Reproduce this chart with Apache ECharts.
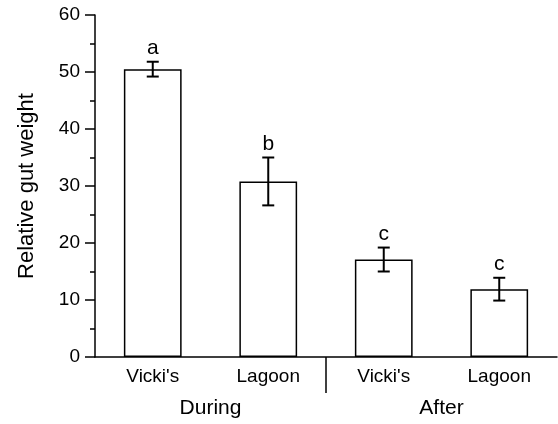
<!DOCTYPE html>
<html>
<head>
<meta charset="utf-8">
<title>Relative gut weight</title>
<script src="https://cdn.jsdelivr.net/npm/echarts@6/dist/echarts.min.js"></script>
<style>
  html, body { margin: 0; padding: 0; background: #fff; }
  #canvas { width: 558px; height: 424px; }
</style>
</head>
<body>
<div id="canvas"></div>
<script type="text/javascript">
    // data
    var categories = ["Vicki's", 'Lagoon', "Vicki's", 'Lagoon'];
    var groups = ['During', 'After'];
    var means = [50.5, 30.8, 17.1, 11.9];
    var errors = [1.3, 4.2, 2.1, 2.0];
    var letters = ['a', 'b', 'c', 'c'];
    var yTicks = [0, 60, 10];  // min, max, step

    var font = 'Liberation Sans, Arial, sans-serif';

    var errData = means.map(function (m, i) {
        return [i, m, errors[i], letters[i]];
    });

    var myChart = echarts.init(document.getElementById('canvas'));
    var option = {
        animation: false,
        grid: { left: 95, right: 1, top: 15, bottom: 67 },
        xAxis: [
            {
                type: 'category',
                data: categories,
                axisLine: { lineStyle: { color: '#000', width: 1.5 } },
                axisTick: { length: 10, lineStyle: { color: '#000', width: 1.5 } },
                axisLabel: { color: '#000', fontFamily: font, fontSize: 19, margin: 10 }
            },
            {
                type: 'category',
                data: groups,
                position: 'bottom',
                axisLine: { show: false },
                axisTick: { show: false },
                axisLabel: { color: '#000', fontFamily: font, fontSize: 21, margin: 41 }
            }
        ],
        yAxis: {
            type: 'value',
            min: yTicks[0],
            max: yTicks[1],
            interval: yTicks[2],
            name: 'Relative gut weight',
            nameLocation: 'middle',
            nameGap: 57,
            nameTextStyle: { color: '#000', fontFamily: font, fontSize: 22 },
            axisLine: { show: true, lineStyle: { color: '#000', width: 1.5 } },
            axisTick: { show: true, length: 10, lineStyle: { color: '#000', width: 1.5 } },
            minorTick: { show: true, splitNumber: 2, length: 5, lineStyle: { color: '#000', width: 1.5 } },
            splitLine: { show: false },
            axisLabel: { color: '#000', fontFamily: font, fontSize: 19, margin: 15 }
        },
        series: [
            {
                type: 'bar',
                data: means,
                barWidth: '50%',
                itemStyle: { color: '#fff', borderColor: '#000', borderWidth: 1.5 }
            },
            {
                // error bars with significance letters
                type: 'custom',
                data: errData,
                encode: { x: 0, y: 1 },
                z: 5,
                renderItem: function (params, api) {
                    var i = api.value(0), m = api.value(1), e = api.value(2);
                    var top = api.coord([i, m + e]);
                    var bot = api.coord([i, m - e]);
                    var cap = 6;
                    var st = { stroke: '#000', lineWidth: 2 };
                    return {
                        type: 'group',
                        children: [
                            { type: 'line', shape: { x1: top[0], y1: top[1], x2: bot[0], y2: bot[1] }, style: st },
                            { type: 'line', shape: { x1: top[0] - cap, y1: top[1], x2: top[0] + cap, y2: top[1] }, style: st },
                            { type: 'line', shape: { x1: bot[0] - cap, y1: bot[1], x2: bot[0] + cap, y2: bot[1] }, style: st },
                            {
                                type: 'text',
                                style: {
                                    text: letters[params.dataIndex],
                                    x: top[0], y: top[1] - 3,
                                    align: 'center', verticalAlign: 'bottom',
                                    font: '21px ' + font, fill: '#000'
                                }
                            }
                        ]
                    };
                }
            },
            {
                // long tick separating During / After
                type: 'custom',
                data: [[1, 0]],
                encode: { x: 0, y: 1 },
                clip: false,
                renderItem: function (params, api) {
                    var p = api.coord([api.value(0), api.value(1)]);
                    var x = p[0] + api.size([1, 0])[0] / 2;
                    return {
                        type: 'line',
                        shape: { x1: x, y1: p[1], x2: x, y2: p[1] + 36 },
                        style: { stroke: '#000', lineWidth: 1.5 }
                    };
                }
            }
        ]
    };
    myChart.setOption(option);
</script>
</body>
</html>
